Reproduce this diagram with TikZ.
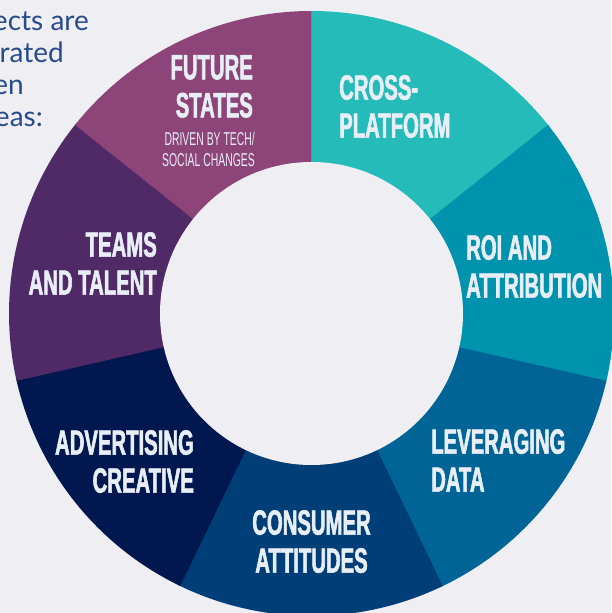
\documentclass[tikz,border=0pt]{standalone}
\usepackage{fontspec}
\newfontfamily\condbold[FakeStretch=0.58,BoldFeatures={FakeBold=1.6}]{Liberation Sans}
\newfontfamily\condreg[FakeStretch=0.56]{Liberation Sans}
\newfontfamily\introfont{Lato}
\definecolor{bgc}{HTML}{EEEEF3}
\definecolor{cpcol}{HTML}{25BBB9}
\definecolor{roicol}{HTML}{0093AD}
\definecolor{levcol}{HTML}{006596}
\definecolor{conscol}{HTML}{003E77}
\definecolor{advcol}{HTML}{00184F}
\definecolor{teamcol}{HTML}{502A66}
\definecolor{futcol}{HTML}{8C4479}
\definecolor{labelc}{HTML}{E8EEF6}
\definecolor{introc}{HTML}{284B8C}
\begin{document}
\begin{tikzpicture}[x=1pt,y=1pt,
  seglabel/.style={inner sep=0pt, text=labelc, font=\condbold\bfseries\fontsize{35}{38}\selectfont},
  sublabel/.style={inner sep=0pt, text=labelc, font=\condreg\fontsize{18.6}{21}\selectfont},
  introtext/.style={inner sep=0pt, anchor=base east, text=introc, font=\introfont\fontsize{28}{32}\selectfont}]
\fill[bgc] (0,0) rectangle (611,613);
\useasboundingbox (0,0) rectangle (611,613);
\coordinate (c) at (311.5,299.5);
\foreach \col [count=\i from 0] in {cpcol,roicol,levcol,conscol,advcol,teamcol,futcol} {
  \pgfmathsetmacro\a{90-\i*360/7}
  \pgfmathsetmacro\b{\a-360/7-(\i<6)*0.4}
  \fill[\col] (c) -- ++(\a:302.5) arc[start angle=\a, end angle=\b, radius=302.5] -- cycle;
}
\fill[bgc] (c) circle[radius=151.5];
% intro text (clipped at the left edge, as in the reference)
\node[introtext] (i1) at (89,582) {ects are};
\node[introtext] (i2) at (64,550) {rated};
\node[introtext] (i3) at (24,518) {en};
\node[introtext] (i4) at (43,486) {eas:};
% segment labels
\node[seglabel, anchor=north east, align=right] (fut) at (253,558) {FUTURE\\STATES};
\node[sublabel, anchor=north east, align=right] (futsub) at (255,481.3) {DRIVEN BY TECH/\\SOCIAL CHANGES};
\node[seglabel, anchor=north west, align=left] (cross) at (339,538) {CROSS-\\PLATFORM};
\node[seglabel, anchor=north west, align=left] (roi) at (466,378) {ROI AND\\ATTRIBUTION};
\node[seglabel, anchor=north west, align=left] (lev) at (431,184) {LEVERAGING\\DATA};
\node[seglabel, anchor=north, align=center] (cons) at (311.5,103) {CONSUMER\\ATTITUDES};
\node[seglabel, anchor=north east, align=right] (adv) at (194,183) {ADVERTISING\\CREATIVE};
\node[seglabel, anchor=north east, align=right] (teams) at (157,381) {TEAMS\\AND TALENT};
\end{tikzpicture}
\end{document}
